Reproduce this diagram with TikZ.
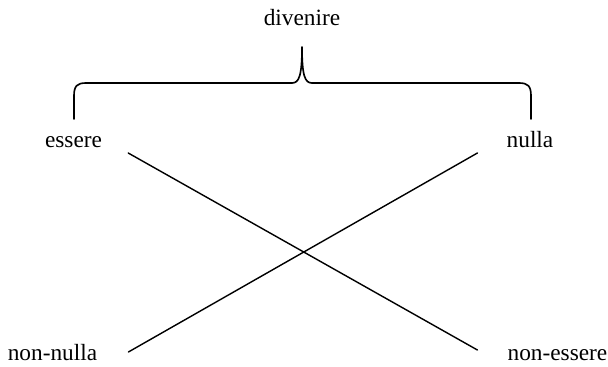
\documentclass[tikz,border=0pt]{standalone}
\usepackage{fontspec}
\setmainfont{Liberation Serif}
\usepackage{tikz}
\usetikzlibrary{calc}

\begin{document}
\begin{tikzpicture}[
  x=0.03cm,y=-0.03cm,
  line cap=round,
  line join=round,
  term/.style={font=\fontsize{19.9}{24}\selectfont,inner sep=0pt,anchor=base},
  brace/.style={draw=black,line width=1.4pt},
  cross/.style={draw=black,line width=1.2pt}
]
\useasboundingbox (0,0) rectangle (608,367);

% terms
\node[term] (divenire)  at (302,26)   {divenire};
\node[term] (essere)    at (73.5,148) {essere};
\node[term] (nulla)     at (530,148)  {nulla};
\node[term] (nonnulla)  at (52.5,360) {non-nulla};
\node[term] (nonessere) at (557.5,360) {non-essere};

% brace under divenire
\draw[brace]
  (74,119) -- (74,96)
    .. controls (74,86) and (77,83) .. (86,83)
    -- (292,83)
    .. controls (299,83) and (302,76) .. (302,47)
    .. controls (302,76) and (305,83) .. (312,83)
    -- (519,83)
    .. controls (528,83) and (531,86) .. (531,96)
    -- (531,119);

% crossing lines
\draw[cross] ([shift={(26,5)}]essere.base east) -- ([shift={(-30,-10)}]nonessere.base west);
\draw[cross] ([shift={(-29,5)}]nulla.base west) -- ([shift={(31,-8)}]nonnulla.base east);

\end{tikzpicture}
\end{document}
